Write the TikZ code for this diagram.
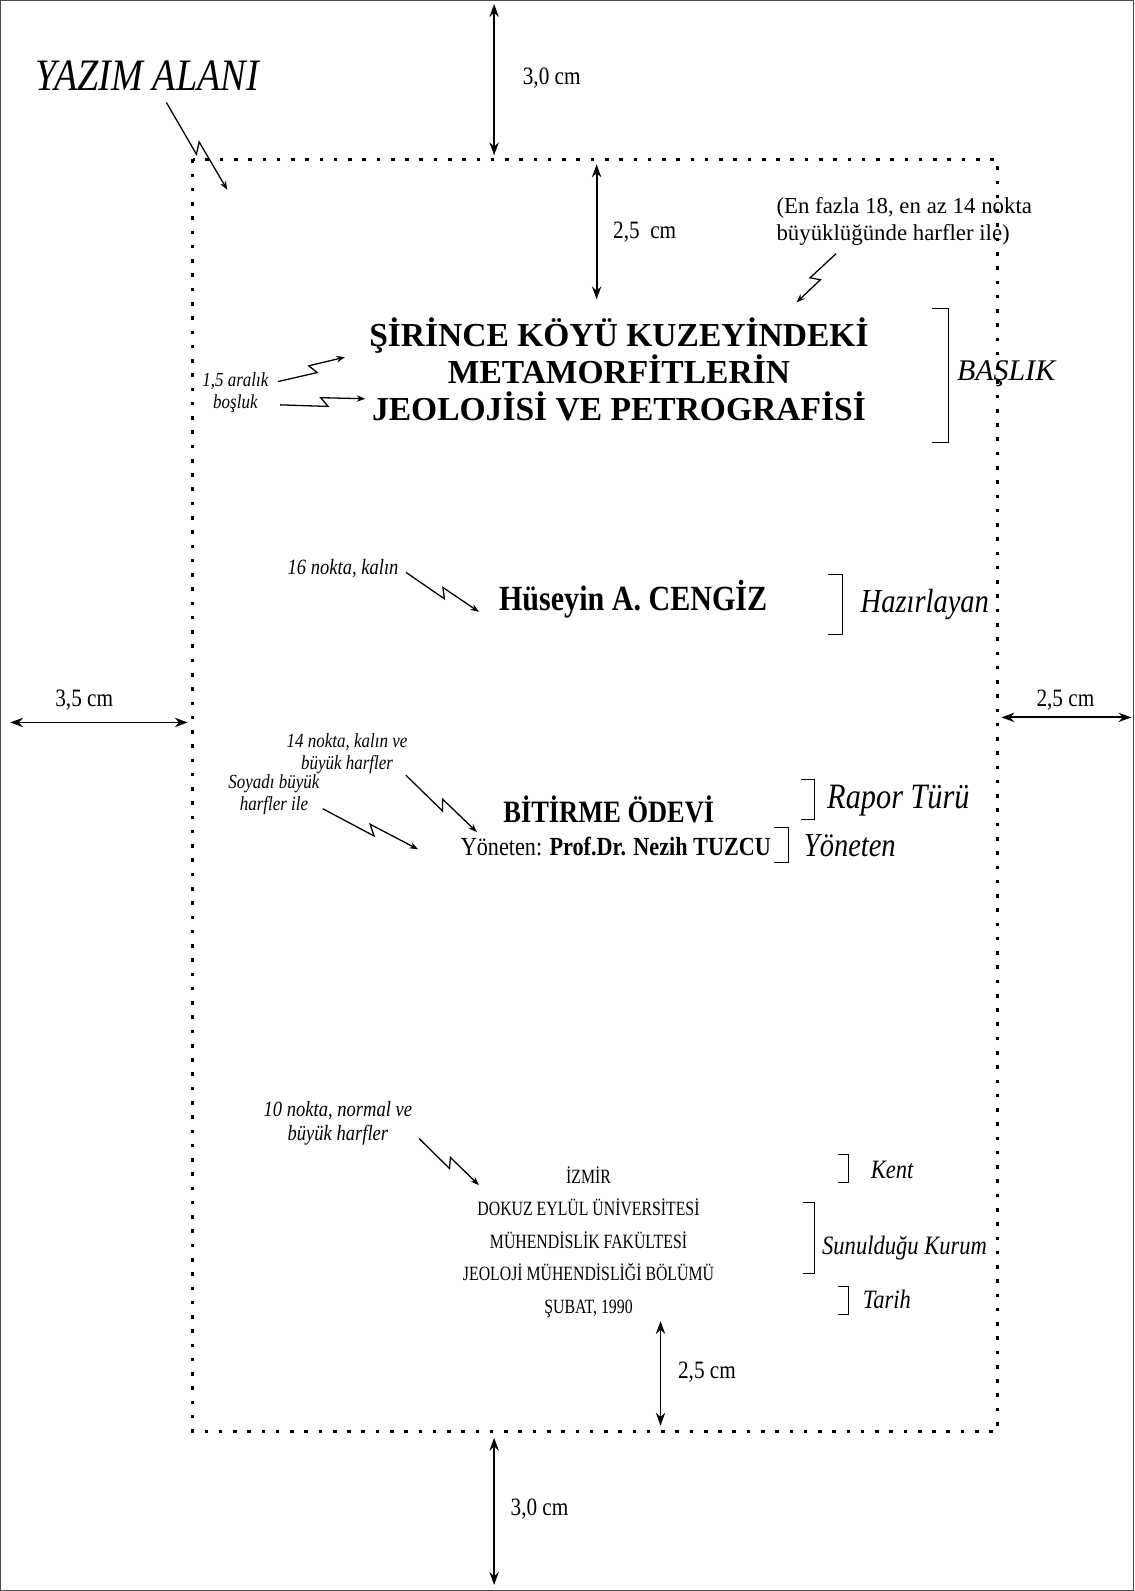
\documentclass[tikz,border=0pt]{standalone}
\usepackage{fontspec}
\setmainfont{Liberation Serif}
\newfontfamily\narrowfont[FakeStretch=0.85]{Liberation Serif}
\newfontfamily\tallfont[FakeStretch=0.78]{Liberation Serif}
\usetikzlibrary{arrows.meta, calc}

\tikzset{
  dimarrow/.style={{Stealth[length=9pt,width=6.5pt]}-{Stealth[length=9pt,width=6.5pt]}, line width=1.3pt},
  zig/.style={-{Stealth[length=6pt,width=4.5pt]}, line width=0.9pt,
    to path={-- ($(\tikztostart)!0.56!(\tikztotarget)!3.5pt!-90:(\tikztotarget)$)
             -- ($(\tikztostart)!0.48!(\tikztotarget)!3pt!90:(\tikztotarget)$)
             -- (\tikztotarget)}},
  brk/.style={line width=0.6pt},
  areabox/.style={line width=2pt, dash pattern=on 2.5pt off 7.5pt},
  dimlabel/.style={font=\fontsize{17.5}{19}\narrowfont, inner sep=0pt, anchor=west},
  hint/.style={font=\fontsize{14}{15}\narrowfont\itshape, align=center, inner sep=0pt},
  role/.style={font=\fontsize{23.5}{25}\narrowfont\itshape, inner sep=0pt, anchor=west},
  rolesmall/.style={font=\fontsize{18.6}{20}\narrowfont\itshape, inner sep=0pt, anchor=west}
}

\begin{document}
\begin{tikzpicture}[x=0.025cm, y=-0.025cm]
  \useasboundingbox (0,0) rectangle (1118,1568);
  % page and writing area
  \draw[line width=0.6pt, black!70] (0.5,0.5) rectangle (1117.5,1567.5);
  \coordinate (wa1) at (190,157);
  \coordinate (wa2) at (983,1411);
  \draw[areabox] (wa1) rectangle (wa2);

  % margins
  \coordinate (topA) at (487,4);
  \coordinate (topB) at (487,153);
  \draw[dimarrow] (topA) -- (topB);
  \node[dimlabel] (toplbl) at (515,77) {3,0 cm};

  \coordinate (leftA) at (10,712);
  \coordinate (leftB) at (185,712);
  \draw[dimarrow] (leftA) -- (leftB);
  \node[dimlabel, anchor=center] (leftlbl) at (83,690) {3,5 cm};

  \coordinate (rightA) at (987,707);
  \coordinate (rightB) at (1115,707);
  \draw[dimarrow] (rightA) -- (rightB);
  \node[dimlabel, anchor=center] (rightlbl) at (1050,690) {2,5 cm};

  \coordinate (botA) at (487,1417);
  \coordinate (botB) at (487,1562);
  \draw[dimarrow] (botA) -- (botB);
  \node[dimlabel] (botlbl) at (503,1487) {3,0 cm};

  % inner spacing
  \coordinate (inA) at (588,162);
  \coordinate (inB) at (588,295);
  \draw[dimarrow] (inA) -- (inB);
  \node[dimlabel] (inlbl) at (604,229) {2,5\ \ cm};

  \coordinate (dateA) at (651,1302);
  \coordinate (dateB) at (651,1405);
  \draw[dimarrow] (dateA) -- (dateB);
  \node[dimlabel] (datelbl) at (668,1352) {2,5 cm};

  % writing area label
  \node[font=\fontsize{31.5}{33}\narrowfont\itshape, inner sep=0pt] (yazim) at (145,75) {YAZIM ALANI};
  \coordinate (yazA) at (164,101);
  \coordinate (yazB) at (224,187);
  \draw[zig] (yazA) to (yazB);

  % title
  \node[font=\fontsize{16}{19.2}\selectfont, align=left, inner sep=0pt, anchor=west] (punto) at (765,218)
    {(En fazla 18, en az 14 nokta\\büyüklüğünde harfler ile)};
  \coordinate (puntoA) at (824,250);
  \coordinate (puntoB) at (785,298);
  \draw[zig] (puntoA) to (puntoB);

  \node[font=\fontsize{23.5}{26}\selectfont\bfseries, align=center, inner sep=0pt] (title) at (610,364)
    {ŞİRİNCE KÖYÜ KUZEYİNDEKİ\\METAMORFİTLERİN\\JEOLOJİSİ VE PETROGRAFİSİ};
  \draw[brk] (919,304) -- (935,304) -- (935,436) -- (919,436);
  \node[font=\fontsize{21}{23}\selectfont\itshape, inner sep=0pt, anchor=west] (baslik) at (943,368) {BAŞLIK};

  \node[hint] (aralik) at (232,387) {1,5 aralık\\boşluk};
  \coordinate (arA) at (274,376);
  \coordinate (arB) at (340,352);
  \coordinate (arC) at (276,399);
  \coordinate (arD) at (360,393);
  \draw[zig] (arA) to (arB);
  \draw[zig] (arC) to (arD);

  % author
  \node[hint, font=\fontsize{15.3}{16}\narrowfont\itshape, anchor=east] (nokta16) at (393,560) {16 nokta, kalın};
  \coordinate (n16A) at (400,564);
  \coordinate (n16B) at (472,603);
  \draw[zig] (n16A) to (n16B);
  \node[font=\fontsize{24.8}{26}\narrowfont\bfseries, inner sep=0pt] (author) at (624,590) {Hüseyin A. CENGİZ};
  \draw[brk] (816,566) -- (830,566) -- (830,625) -- (816,625);
  \node[role] (hazir) at (848,596) {Hazırlayan};

  % report type and supervisor
  \node[hint] (nokta14) at (342,743) {14 nokta, kalın ve\\büyük harfler};
  \coordinate (n14A) at (400,764);
  \coordinate (n14B) at (470,820);
  \draw[zig] (n14A) to (n14B);
  \node[hint] (soyadi) at (270,783) {Soyadı büyük\\harfler ile};
  \coordinate (soyA) at (318,797);
  \coordinate (soyB) at (412,837);
  \draw[zig] (soyA) to (soyB);

  \node[font=\fontsize{21.8}{23}\narrowfont\bfseries, inner sep=0pt] (rapor) at (600,798) {BİTİRME ÖDEVİ};
  \draw[brk] (789,768) -- (803,768) -- (803,808) -- (789,808);
  \node[role, font=\fontsize{25}{27}\narrowfont\itshape] (raporlbl) at (815,789) {Rapor Türü};

  \node[font=\fontsize{18.3}{20}\narrowfont, inner sep=0pt] (yonet) at (607,834) {Yöneten: \textbf{Prof.Dr. Nezih TUZCU}};
  \draw[brk] (763,815) -- (777,815) -- (777,850) -- (763,850);
  \node[role] (yonetlbl) at (792,833) {Yöneten};

  % institution
  \node[hint, font=\fontsize{15.3}{16.5}\narrowfont\itshape] (nokta10) at (333,1107) {10 nokta, normal ve\\büyük harfler};
  \coordinate (n10A) at (413,1122);
  \coordinate (n10B) at (472,1168);
  \draw[zig] (n10A) to (n10B);

  \node[font=\fontsize{14.2}{22.8}\tallfont, align=center, inner sep=0pt] (kurum) at (580,1224)
    {İZMİR\\DOKUZ EYLÜL ÜNİVERSİTESİ\\MÜHENDİSLİK FAKÜLTESİ\\JEOLOJİ MÜHENDİSLİĞİ BÖLÜMÜ\\ŞUBAT, 1990};

  \draw[brk] (826,1138) -- (836,1138) -- (836,1165) -- (826,1165);
  \node[rolesmall] (kent) at (858,1153) {Kent};
  \draw[brk] (791,1185) -- (803,1185) -- (803,1255) -- (791,1255);
  \node[rolesmall] (sunul) at (810,1230) {Sunulduğu Kurum};
  \draw[brk] (826,1268) -- (836,1268) -- (836,1295) -- (826,1295);
  \node[rolesmall] (tarih) at (850,1281) {Tarih};
\end{tikzpicture}
\end{document}
